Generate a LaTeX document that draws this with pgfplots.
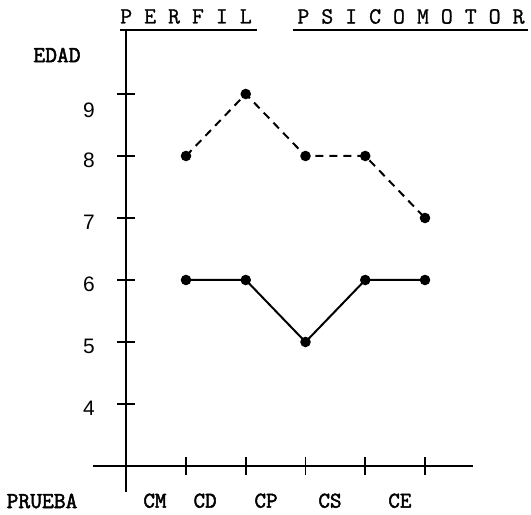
\documentclass[border=0pt]{standalone}
\usepackage{pgfplots}
\pgfplotsset{compat=1.18}
\usepackage{fontspec}
\setmainfont{Liberation Sans}
\newfontfamily\tw[AutoFakeBold=2.2]{Latin Modern Mono}
\newfontfamily\twt[AutoFakeBold=1.0]{Latin Modern Mono}
\begin{document}
\begin{tikzpicture}[x=1bp,y=1bp]
\path[use as bounding box] (0,0) rectangle (531,515);
\begin{axis}[
  at={(126.25bp,49bp)}, anchor=south west,
  scale only axis, width=346.55bp, height=435.86bp,
  xmin=0, xmax=5.8, ymin=3, ymax=10.03,
  axis lines=left, axis line style={-, line width=1.8bp},
  clip=false,
  xtick={1,2,3,4,5}, xticklabels={},
  ytick={4,5,6,7,8,9},
  yticklabels={4,5,6,7,8,\raisebox{-12bp}[\height][\depth]{9}},
  tick align=center, major tick length=18bp,
  every tick/.style={black, line width=1.7bp},
  yticklabel style={anchor=east, xshift=-19bp, yshift=-4bp, font=\fontsize{21}{21}\selectfont},
]
\addplot[black, line width=2bp, dash pattern=on 8bp off 6bp, mark=*, mark size=4.2bp, mark options={solid}]
  coordinates {(1,8) (2,9) (3,8) (4,8) (5,7)};
\addplot[black, line width=2bp, mark=*, mark size=4.2bp]
  coordinates {(1,6) (2,6) (3,5) (4,6) (5,6)};
\draw[line width=1.8bp] (axis cs:-0.556,3) -- (axis cs:0,3);
\draw[line width=1.8bp] (axis cs:0,2.58) -- (axis cs:0,3);
\node[font=\tw\bfseries\fontsize{22.5}{22.5}\selectfont] at (axis cs:0.48,2.44) {CM};
\node[font=\tw\bfseries\fontsize{22.5}{22.5}\selectfont] at (axis cs:1.32,2.44) {CD};
\node[font=\tw\bfseries\fontsize{22.5}{22.5}\selectfont] at (axis cs:2.34,2.44) {CP};
\node[font=\tw\bfseries\fontsize{22.5}{22.5}\selectfont] at (axis cs:3.41,2.44) {CS};
\node[font=\tw\bfseries\fontsize{22.5}{22.5}\selectfont] at (axis cs:4.58,2.44) {CE};
\end{axis}
\node[font=\twt\bfseries\fontsize{23.3}{23.3}\selectfont] at (186,498.5) {P E R F I L};
\node[font=\twt\bfseries\fontsize{23.3}{23.3}\selectfont] at (411,498.5) {P S I C O M O T O R};
\draw[line width=1.6bp] (120,485) -- (257,485);
\draw[line width=1.6bp] (293,485) -- (528,485);
\node[font=\tw\bfseries\fontsize{23}{23}\selectfont] at (57,460) {EDAD};
\node[font=\tw\bfseries\fontsize{23}{23}\selectfont] at (42,14) {PRUEBA};
\end{tikzpicture}
\end{document}
